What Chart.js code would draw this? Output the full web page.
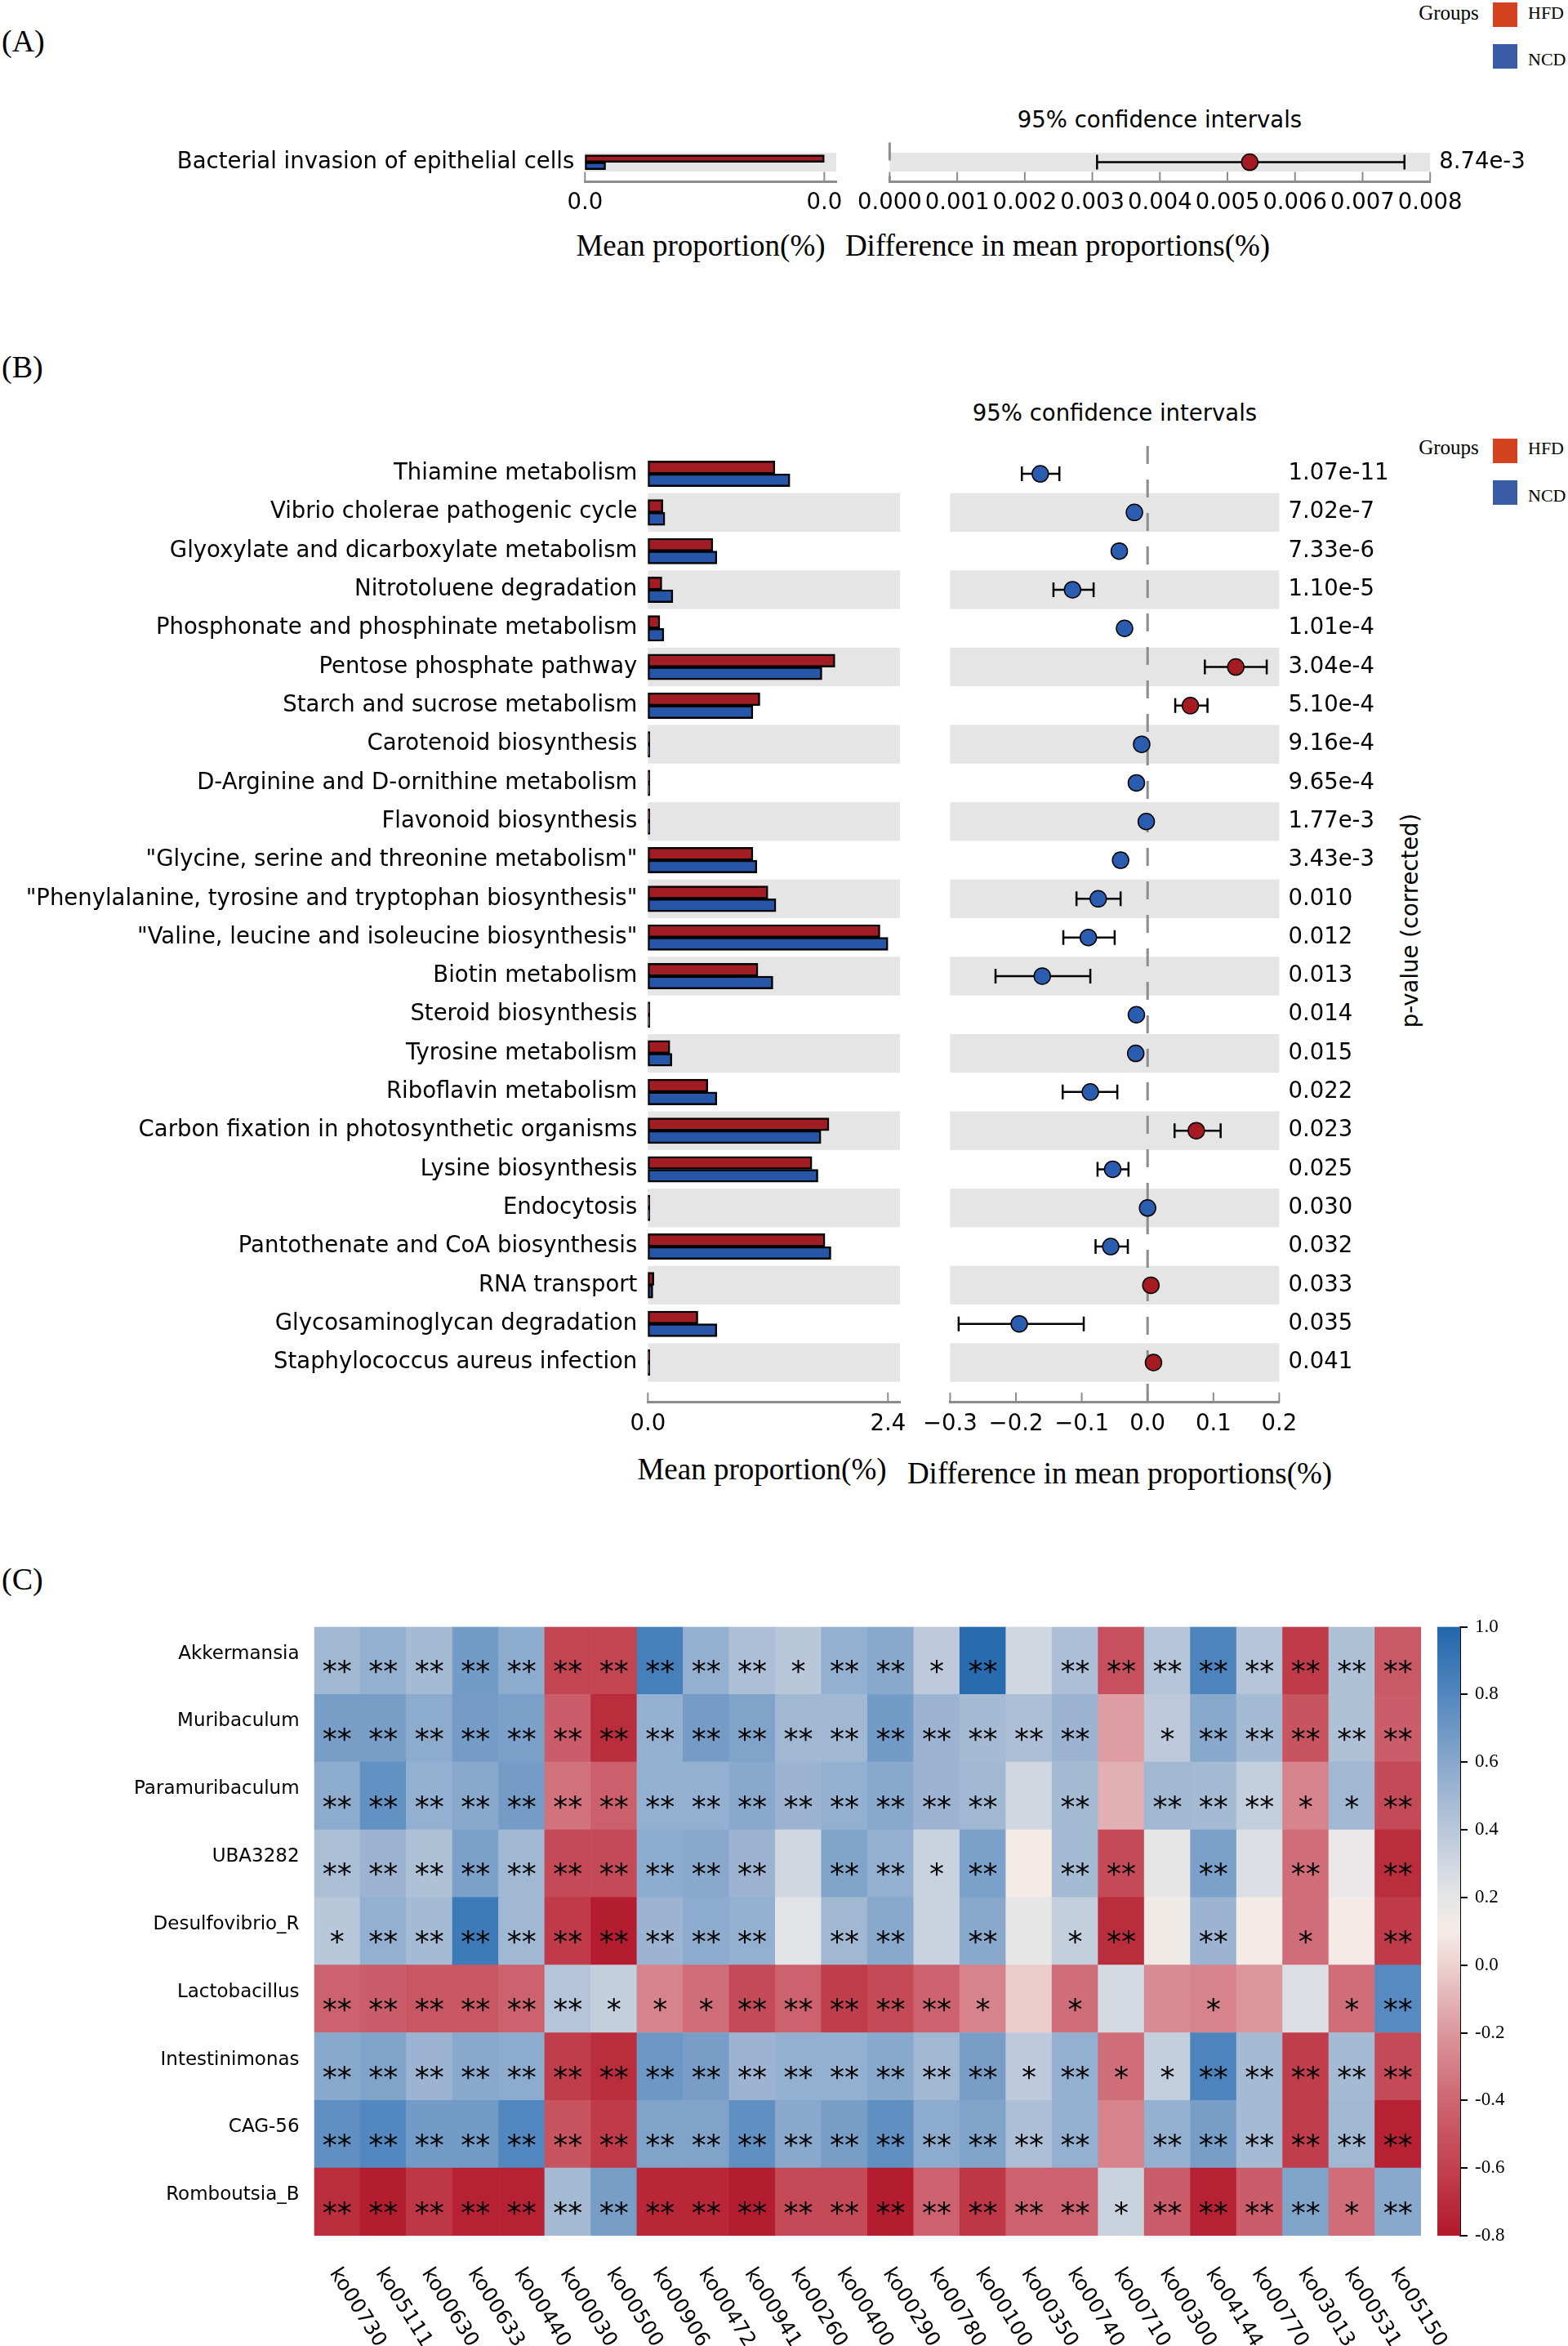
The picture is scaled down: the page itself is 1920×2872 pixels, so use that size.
<!DOCTYPE html>
<html>
<head>
<meta charset="utf-8">
<title>STAMP pathways and correlation heatmap</title>
<script src="https://cdn.jsdelivr.net/npm/chart.js@4.4.1/dist/chart.umd.min.js"></script>
<style>
    html, body { margin: 0; padding: 0; background: #fff; }
    #page { position: relative; width: 1920px; height: 2872px; overflow: hidden; background: #fff; }
    .box { position: absolute; }
    .txt { position: absolute; white-space: nowrap; line-height: 1; color: #000; }
    .serif { font-family: 'Liberation Serif', 'Times New Roman', serif; }
    .sans { font-family: 'DejaVu Sans', sans-serif; }
    .mid { transform: translate(-50%, -50%); }
    .lmid { transform: translateY(-50%); }
    .swatch { position: absolute; width: 30px; height: 30px; }
</style>
</head>
<body>
<div id="page">
    <!-- panel letters -->
    <div class="txt serif lmid" style="left:2px; top:50px; font-size:38px">(A)</div>
    <div class="txt serif lmid" style="left:2px; top:449px; font-size:38px">(B)</div>
    <div class="txt serif lmid" style="left:2px; top:1933px; font-size:38px">(C)</div>

    <!-- legend A -->
    <div class="txt serif mid" style="left:1774px; top:15px; font-size:25px">Groups</div>
    <div class="swatch" style="left:1828px; top:3px; background:#d3431f"></div>
    <div class="txt serif lmid" style="left:1871px; top:16px; font-size:22px">HFD</div>
    <div class="swatch" style="left:1828px; top:54px; background:#3a5ba5"></div>
    <div class="txt serif lmid" style="left:1871px; top:72.5px; font-size:22px">NCD</div>

    <!-- legend B -->
    <div class="txt serif mid" style="left:1774px; top:546.5px; font-size:25px">Groups</div>
    <div class="swatch" style="left:1828px; top:537px; background:#d3431f"></div>
    <div class="txt serif lmid" style="left:1871px; top:549px; font-size:22px">HFD</div>
    <div class="swatch" style="left:1828px; top:588px; background:#3a5ba5"></div>
    <div class="txt serif lmid" style="left:1871px; top:606.5px; font-size:22px">NCD</div>

    <!-- titles -->
    <div class="txt sans mid" style="left:1420px; top:147px; font-size:27.5px">95% confidence intervals</div>
    <div class="txt serif mid" style="left:858px; top:300px; font-size:37px">Mean proportion(%)</div>
    <div class="txt serif mid" style="left:1295px; top:300px; font-size:37px">Difference in mean proportions(%)</div>

    <div class="txt sans mid" style="left:1365px; top:506px; font-size:27.5px">95% confidence intervals</div>
    <div class="txt serif mid" style="left:933px; top:1798px; font-size:37px">Mean proportion(%)</div>
    <div class="txt serif mid" style="left:1371px; top:1803px; font-size:37px">Difference in mean proportions(%)</div>
    <div class="txt sans" style="left:1727px; top:1127px; font-size:27.5px; transform:translate(-50%,-50%) rotate(-90deg)">p-value (corrected)</div>

    <!-- charts -->
    <div class="box" style="left:0; top:143px; width:1060px; height:140px"><canvas id="aBar"></canvas></div>
    <div class="box" style="left:1040px; top:143px; width:880px; height:140px"><canvas id="aCi"></canvas></div>
    <div class="box" style="left:0; top:500px; width:1140px; height:1290px"><canvas id="bBar"></canvas></div>
    <div class="box" style="left:1100px; top:500px; width:640px; height:1290px"><canvas id="bCi"></canvas></div>
    <div class="box" style="left:0; top:1950px; width:1920px; height:922px"><canvas id="heat"></canvas></div>
    <div class="box" style="left:1700px; top:1960px; width:200px; height:820px"><canvas id="cbar"></canvas></div>
</div>

<script>
// ---- Panel A data ----
const aPathways = ['Bacterial invasion of epithelial cells'];
const aHfdMean = [0.0058];
const aNcdMean = [0.0005];
const aDiff = [0.00533];
const aCiLow = [0.00307];
const aCiHigh = [0.00762];
const aPValues = ['8.74e-3'];

// ---- Panel B data ----
const bPathways = [
    'Thiamine metabolism',
    'Vibrio cholerae pathogenic cycle',
    'Glyoxylate and dicarboxylate metabolism',
    'Nitrotoluene degradation',
    'Phosphonate and phosphinate metabolism',
    'Pentose phosphate pathway',
    'Starch and sucrose metabolism',
    'Carotenoid biosynthesis',
    'D-Arginine and D-ornithine metabolism',
    'Flavonoid biosynthesis',
    '"Glycine, serine and threonine metabolism"',
    '"Phenylalanine, tyrosine and tryptophan biosynthesis"',
    '"Valine, leucine and isoleucine biosynthesis"',
    'Biotin metabolism',
    'Steroid biosynthesis',
    'Tyrosine metabolism',
    'Riboflavin metabolism',
    'Carbon fixation in photosynthetic organisms',
    'Lysine biosynthesis',
    'Endocytosis',
    'Pantothenate and CoA biosynthesis',
    'RNA transport',
    'Glycosaminoglycan degradation',
    'Staphylococcus aureus infection'
];
const bHfdMean = [1.27, 0.15, 0.65, 0.14, 0.12, 1.87, 1.12, 0.02, 0.02, 0.02, 1.05, 1.20, 2.32, 1.10, 0.02, 0.22, 0.60, 1.81, 1.64, 0.02, 1.77, 0.06, 0.50, 0.02];
const bNcdMean = [1.42, 0.17, 0.69, 0.25, 0.16, 1.74, 1.05, 0.02, 0.02, 0.02, 1.09, 1.28, 2.40, 1.25, 0.02, 0.24, 0.69, 1.73, 1.70, 0.02, 1.83, 0.05, 0.69, 0.02];
const bDiff = [-0.163, -0.020, -0.043, -0.114, -0.035, 0.134, 0.065, -0.009, -0.017, -0.002, -0.041, -0.075, -0.090, -0.160, -0.017, -0.018, -0.087, 0.074, -0.053, 0.000, -0.056, 0.005, -0.195, 0.009];
const bCiLow = [-0.191, -0.023, -0.048, -0.143, -0.039, 0.087, 0.042, -0.011, -0.019, -0.004, -0.048, -0.108, -0.128, -0.231, -0.019, -0.020, -0.129, 0.041, -0.076, -0.002, -0.079, 0.003, -0.287, 0.007];
const bCiHigh = [-0.134, -0.017, -0.038, -0.082, -0.031, 0.181, 0.091, -0.007, -0.015, 0.000, -0.034, -0.041, -0.050, -0.087, -0.015, -0.016, -0.046, 0.111, -0.029, 0.002, -0.030, 0.007, -0.097, 0.011];
const bPValues = ['1.07e-11', '7.02e-7', '7.33e-6', '1.10e-5', '1.01e-4', '3.04e-4', '5.10e-4', '9.16e-4', '9.65e-4', '1.77e-3', '3.43e-3',
    '0.010', '0.012', '0.013', '0.014', '0.015', '0.022', '0.023', '0.025', '0.030', '0.032', '0.033', '0.035', '0.041'];

// ---- Panel C data (correlation r, genus x KEGG pathway) ----
const koPathways = ['ko00730', 'ko05111', 'ko00630', 'ko00633', 'ko00440', 'ko00030', 'ko00500', 'ko00906', 'ko00472', 'ko00941', 'ko00260', 'ko00400',
    'ko00290', 'ko00780', 'ko00100', 'ko00350', 'ko00740', 'ko00710', 'ko00300', 'ko04144', 'ko00770', 'ko03013', 'ko00531', 'ko05150'];
const genera = ['Akkermansia', 'Muribaculum', 'Paramuribaculum', 'UBA3282', 'Desulfovibrio_R', 'Lactobacillus', 'Intestinimonas', 'CAG-56', 'Romboutsia_B'];

const rAkkermansia = [0.50, 0.55, 0.48, 0.68, 0.58, -0.58, -0.58, 0.85, 0.55, 0.45, 0.40, 0.55, 0.60, 0.38, 0.97, 0.30, 0.45, -0.52, 0.42, 0.82, 0.42, -0.63, 0.44, -0.47];
const rMuribaculum = [0.66, 0.66, 0.58, 0.67, 0.65, -0.45, -0.70, 0.55, 0.67, 0.63, 0.50, 0.50, 0.68, 0.52, 0.48, 0.45, 0.52, -0.18, 0.38, 0.60, 0.48, -0.50, 0.44, -0.45];
const rParamuribaculum = [0.58, 0.74, 0.55, 0.60, 0.67, -0.35, -0.43, 0.55, 0.55, 0.60, 0.52, 0.55, 0.60, 0.52, 0.50, 0.30, 0.48, -0.12, 0.50, 0.48, 0.35, -0.28, 0.50, -0.55];
const rUBA3282 = [0.46, 0.52, 0.44, 0.65, 0.50, -0.55, -0.55, 0.58, 0.60, 0.52, 0.30, 0.63, 0.55, 0.33, 0.65, 0.10, 0.48, -0.55, 0.20, 0.65, 0.25, -0.37, 0.18, -0.70];
const rDesulfovibrio = [0.40, 0.55, 0.48, 0.88, 0.50, -0.63, -0.78, 0.52, 0.58, 0.55, 0.22, 0.50, 0.60, 0.33, 0.60, 0.20, 0.35, -0.70, 0.13, 0.52, 0.10, -0.37, 0.10, -0.63];
const rLactobacillus = [-0.42, -0.45, -0.48, -0.48, -0.42, 0.42, 0.35, -0.28, -0.37, -0.55, -0.42, -0.62, -0.55, -0.42, -0.28, -0.02, -0.37, 0.28, -0.25, -0.28, -0.20, 0.25, -0.37, 0.78];
const rIntestinimonas = [0.60, 0.63, 0.52, 0.60, 0.58, -0.62, -0.70, 0.70, 0.66, 0.52, 0.55, 0.55, 0.60, 0.50, 0.66, 0.38, 0.55, -0.37, 0.35, 0.82, 0.48, -0.62, 0.48, -0.55];
const rCAG56 = [0.75, 0.80, 0.68, 0.68, 0.80, -0.50, -0.63, 0.63, 0.63, 0.75, 0.60, 0.66, 0.75, 0.58, 0.63, 0.45, 0.55, -0.28, 0.55, 0.66, 0.48, -0.62, 0.50, -0.75];
const rRomboutsia = [-0.70, -0.78, -0.65, -0.75, -0.75, 0.48, 0.66, -0.73, -0.73, -0.78, -0.55, -0.55, -0.78, -0.42, -0.65, -0.42, -0.42, 0.33, -0.45, -0.75, -0.45, 0.63, -0.37, 0.60];

// number of stars per cell (0 = not significant, 1 = *, 2 = **)
const sigAkkermansia = '222222222212212022222222';
const sigMuribaculum = '222222222222222220122222';
const sigParamuribaculum = '222222222222222020222112';
const sigUBA3282 = '222222222202212022020202';
const sigDesulfovibrio = '122222222202202012020102';
const sigLactobacillus = '222222111222221010010012';
const sigIntestinimonas = '222222222222222121122222';
const sigCAG56 = '222222222222222220222222';
const sigRomboutsia = '222222222222222221222212';

const corrRows = [rAkkermansia, rMuribaculum, rParamuribaculum, rUBA3282, rDesulfovibrio, rLactobacillus, rIntestinimonas, rCAG56, rRomboutsia];
const sigRows = [sigAkkermansia, sigMuribaculum, sigParamuribaculum, sigUBA3282, sigDesulfovibrio, sigLactobacillus, sigIntestinimonas, sigCAG56, sigRomboutsia];

// colour bar range and ticks
const colorMin = -0.8;
const colorMax = 1.0;
const cmapStops = [-0.8, -0.6, -0.4, -0.2, 0.0, 0.1, 0.2, 0.4, 0.6, 0.8, 1.0];
const cmapColors = ['#b2182b', '#c2414f', '#cd6671', '#dc979d', '#ecd2d1', '#f4ebe7', '#e6e6e7', '#b9c7da', '#88a8cc', '#5287bf', '#2166ac'];

// ---- styling ----
const BAR_RED = '#a21d23';
const BAR_BLUE = '#2756a8';
const DOT_RED = '#a61b22';
const DOT_BLUE = '#2a5db0';
const BAND_GREY = '#e5e5e5';
const AXIS_GREY = '#8c8c8c';
const SANS = "'DejaVu Sans', sans-serif";
const SERIF = "'Liberation Serif', 'Times New Roman', serif";

Chart.defaults.font.family = SANS;
Chart.defaults.font.size = 27.5;
Chart.defaults.color = '#000';
Chart.defaults.animation = false;
Chart.defaults.responsive = true;
Chart.defaults.maintainAspectRatio = false;
Chart.defaults.plugins.legend.display = false;
Chart.defaults.plugins.tooltip.enabled = false;

// hex -> rgb helper for the colour map
function hexToRgb(h) {
    return [parseInt(h.slice(1, 3), 16), parseInt(h.slice(3, 5), 16), parseInt(h.slice(5, 7), 16)];
}

function colorFor(v) {
    const c = Math.max(colorMin, Math.min(colorMax, v));
    for (let i = 0; i < cmapStops.length - 1; i++) {
        if (c <= cmapStops[i + 1]) {
            const t = (c - cmapStops[i]) / (cmapStops[i + 1] - cmapStops[i]);
            const a = hexToRgb(cmapColors[i]), b = hexToRgb(cmapColors[i + 1]);
            const rgb = a.map((x, k) => Math.round(x + (b[k] - x) * t));
            return 'rgb(' + rgb.join(',') + ')';
        }
    }
    return cmapColors[cmapColors.length - 1];
}

// inward pointing ticks on the bottom axis (matplotlib look)
const insideTicks = {
    id: 'insideTicks',
    afterDraw(chart) {
        const { ctx, chartArea: ca, scales: { x } } = chart;
        ctx.save();
        ctx.strokeStyle = AXIS_GREY;
        ctx.lineWidth = 2;
        x.ticks.forEach(t => {
            const px = x.getPixelForValue(t.value);
            ctx.beginPath();
            ctx.moveTo(px, ca.bottom);
            ctx.lineTo(px, ca.bottom - 12);
            ctx.stroke();
        });
        ctx.restore();
    }
};

// alternating grey row bands, the bottom row is always grey
function makeRowBands(n) {
    return {
        id: 'rowBands',
        beforeDatasetsDraw(chart) {
            const { ctx, chartArea: ca, scales: { y } } = chart;
            ctx.save();
            ctx.fillStyle = BAND_GREY;
            for (let i = 0; i < n; i++) {
                if ((n - 1 - i) % 2 !== 0) continue;
                const top = y.getPixelForValue(i - 0.5);
                const bottom = y.getPixelForValue(i + 0.5);
                ctx.fillRect(ca.left, top, ca.right - ca.left, bottom - top);
            }
            ctx.restore();
        }
    };
}

// dashed zero line + error bars of the 95% CI
function makeErrorBars(low, high) {
    return {
        id: 'errorBars',
        beforeDatasetsDraw(chart) {
            const { ctx, chartArea: ca, scales: { x, y } } = chart;
            ctx.save();
            ctx.strokeStyle = AXIS_GREY;
            ctx.lineWidth = 3;
            ctx.setLineDash([22, 19]);
            const x0 = x.getPixelForValue(0);
            ctx.beginPath();
            ctx.moveTo(x0, ca.top);
            ctx.lineTo(x0, ca.bottom);
            ctx.stroke();
            ctx.setLineDash([]);
            ctx.strokeStyle = '#000';
            ctx.lineWidth = 2.5;
            low.forEach((lo, i) => {
                const yy = y.getPixelForValue(i);
                const xl = x.getPixelForValue(lo);
                const xh = x.getPixelForValue(high[i]);
                ctx.beginPath();
                ctx.moveTo(xl, yy); ctx.lineTo(xh, yy);
                ctx.moveTo(xl, yy - 9); ctx.lineTo(xl, yy + 9);
                ctx.moveTo(xh, yy - 9); ctx.lineTo(xh, yy + 9);
                ctx.stroke();
            });
            ctx.restore();
        }
    };
}

function rowTicks(n) {
    return scale => { scale.ticks = Array.from({ length: n }, (_, i) => ({ value: i })); };
}

// one STAMP extended error bar panel = bar chart + CI chart
function stampPanel(p) {
    const n = p.names.length;
    const maxMean = Math.max(...p.hfd, ...p.ncd);
    const barOpts = { borderColor: '#000', borderWidth: 2.5, borderSkipped: false, barThickness: p.barThickness };

    new Chart(document.getElementById(p.barId), {
        type: 'bar',
        data: {
            datasets: [
                Object.assign({ label: 'HFD', data: p.hfd.map((v, i) => ({ x: v, y: i })), backgroundColor: BAR_RED }, barOpts),
                Object.assign({ label: 'NCD', data: p.ncd.map((v, i) => ({ x: v, y: i })), backgroundColor: BAR_BLUE }, barOpts)
            ]
        },
        options: {
            indexAxis: 'y',
            layout: { padding: p.barPadding },
            scales: {
                x: {
                    type: 'linear', min: 0, max: maxMean * 1.05,
                    afterBuildTicks: s => { s.ticks = [{ value: 0 }, { value: maxMean }]; },
                    afterFit: s => { s.height = p.xAxisHeight; },
                    ticks: { callback: v => v.toFixed(1), padding: p.xTickPad, autoSkip: false, maxRotation: 0, minRotation: 0 },
                    grid: { display: false, drawTicks: false },
                    border: { display: true, color: AXIS_GREY, width: 3 }
                },
                y: {
                    type: 'linear', reverse: true, offset: false, min: p.yMin, max: p.yMax,
                    afterBuildTicks: rowTicks(n),
                    afterFit: s => { s.width = p.labelWidth; },
                    ticks: { callback: (v, i) => p.names[i], padding: 13, autoSkip: false },
                    grid: { display: false, drawTicks: false, offset: false },
                    border: { display: false }
                }
            }
        },
        plugins: [makeRowBands(n), insideTicks]
    });

    new Chart(document.getElementById(p.ciId), {
        type: 'scatter',
        data: {
            datasets: [{
                data: p.diff.map((v, i) => ({ x: v, y: i })),
                pointRadius: 10,
                pointHoverRadius: 10,
                pointBackgroundColor: p.diff.map(v => v > 0 ? DOT_RED : DOT_BLUE),
                pointBorderColor: '#000',
                pointBorderWidth: 1.5
            }]
        },
        options: {
            layout: { padding: p.ciPadding },
            scales: {
                x: {
                    type: 'linear', min: p.ciMin, max: p.ciMax,
                    afterFit: s => { s.height = p.xAxisHeight; },
                    ticks: { stepSize: p.ciStep, callback: p.ciFormat, padding: p.xTickPad, autoSkip: false, maxRotation: 0, minRotation: 0 },
                    grid: { display: false, drawTicks: false },
                    border: { display: true, color: AXIS_GREY, width: 3 }
                },
                y: { type: 'linear', reverse: true, offset: false, min: p.yMin, max: p.yMax, display: false },
                y2: {
                    type: 'linear', position: 'right', reverse: true, offset: false, min: p.yMin, max: p.yMax,
                    afterBuildTicks: rowTicks(n),
                    afterFit: s => { s.width = p.pWidth; },
                    ticks: { callback: (v, i) => p.pvals[i], padding: 11, autoSkip: false },
                    grid: { display: false, drawTicks: false },
                    border: { display: false }
                }
            }
        },
        plugins: [makeRowBands(n), makeErrorBars(p.low, p.high), insideTicks]
    });
}

const minusFmt = v => {
    const r = Math.round(v * 10) / 10;
    return (r === 0 ? 0 : r).toFixed(1).replace('-', '\u2212');
};

// Panel A
stampPanel({
    barId: 'aBar', ciId: 'aCi',
    names: aPathways, hfd: aHfdMean, ncd: aNcdMean,
    diff: aDiff, low: aCiLow, high: aCiHigh, pvals: aPValues,
    yMin: -1.04, yMax: 1.04, barThickness: 9,
    barPadding: { top: 31.6, right: 36, bottom: 0, left: 0 }, labelWidth: 716.3,
    ciPadding: { top: 31.6, right: 10, bottom: 0, left: 47.5 }, pWidth: 158.8,
    xAxisHeight: 60.5, xTickPad: 10,
    ciMin: 0, ciMax: 0.008, ciStep: 0.001, ciFormat: v => v.toFixed(3)
});

// Panel B
stampPanel({
    barId: 'bBar', ciId: 'bCi',
    names: bPathways, hfd: bHfdMean, ncd: bNcdMean,
    diff: bDiff, low: bCiLow, high: bCiHigh, pvals: bPValues,
    yMin: -0.72, yMax: 24.03, barThickness: 15.7,
    barPadding: { top: 46, right: 38, bottom: 0, left: 0 }, labelWidth: 793.3,
    ciPadding: { top: 46, right: 10, bottom: 0, left: 63.4 }, pWidth: 163.6,
    xAxisHeight: 73.3, xTickPad: 11,
    ciMin: -0.3, ciMax: 0.2, ciStep: 0.1, ciFormat: minusFmt
});

// ---- Panel C heatmap: stacked unit bars, one dataset per genus (bottom row first) ----
const starLabels = {
    id: 'starLabels',
    afterDatasetsDraw(chart) {
        const { ctx } = chart;
        ctx.save();
        ctx.fillStyle = '#000';
        ctx.font = '36px ' + SANS;
        ctx.textAlign = 'center';
        ctx.textBaseline = 'alphabetic';
        chart.data.datasets.forEach((ds, d) => {
            const sig = sigRows[ds.rowIndex];
            chart.getDatasetMeta(d).data.forEach((el, c) => {
                const n = Number(sig[c]);
                if (!n) return;
                const { x, y, base } = el.getProps(['x', 'y', 'base'], true);
                ctx.fillText('*'.repeat(n), x, (y + base) / 2 + 25);
            });
        });
        ctx.restore();
    },
    afterDraw(chart) {
        const { ctx, chartArea: ca, scales: { x } } = chart;
        ctx.save();
        ctx.fillStyle = '#000';
        ctx.font = '25px ' + SANS;
        ctx.textAlign = 'left';
        ctx.textBaseline = 'middle';
        koPathways.forEach((lab, i) => {
            const px = x.getPixelForValue(i);
            ctx.save();
            ctx.translate(px - 4, ca.bottom + 42);
            ctx.rotate(58 * Math.PI / 180);
            ctx.fillText(lab, 0, 0);
            ctx.restore();
        });
        ctx.restore();
    }
};

const heatDatasets = genera.map((g, r) => ({
    label: g,
    rowIndex: r,
    data: koPathways.map(() => 1),
    backgroundColor: corrRows[r].map(colorFor),
    borderWidth: 0,
    barPercentage: 1,
    categoryPercentage: 1
})).reverse();

new Chart(document.getElementById('heat'), {
    type: 'bar',
    data: { labels: koPathways, datasets: heatDatasets },
    options: {
        layout: { padding: { top: 41.5, right: 180, bottom: 135, left: 0 } },
        scales: {
            x: { stacked: true, display: false },
            y: {
                stacked: true, min: 0, max: genera.length,
                afterBuildTicks: s => { s.ticks = genera.map((_, r) => ({ value: genera.length - r - 0.4 })); },
                afterFit: s => { s.width = 384.6; },
                ticks: { callback: (v, i) => genera[i], padding: 18, autoSkip: false, font: { size: 23 } },
                grid: { display: false, drawTicks: false },
                border: { display: false }
            }
        }
    },
    plugins: [starLabels]
});

// ---- colour bar ----
new Chart(document.getElementById('cbar'), {
    type: 'bar',
    data: {
        labels: [''],
        datasets: [{
            data: [[colorMin, colorMax]],
            backgroundColor: c => {
                const { chartArea, ctx } = c.chart;
                if (!chartArea) return cmapColors[5];
                const g = ctx.createLinearGradient(0, chartArea.bottom, 0, chartArea.top);
                cmapStops.forEach((s, i) => g.addColorStop((s - colorMin) / (colorMax - colorMin), cmapColors[i]));
                return g;
            },
            borderWidth: 0,
            barPercentage: 1,
            categoryPercentage: 1
        }]
    },
    options: {
        layout: { padding: { top: 31.5, right: 0, bottom: 43, left: 60 } },
        scales: {
            x: { display: false },
            y: {
                position: 'right', min: colorMin, max: colorMax,
                afterFit: s => { s.width = 112; },
                ticks: {
                    stepSize: 0.2, padding: 9, font: { family: SERIF, size: 23 },
                    callback: v => (Math.abs(v) < 1e-9 ? 0 : v).toFixed(1)
                },
                grid: { drawOnChartArea: false, drawTicks: true, tickLength: 9, color: '#000', lineWidth: 2 },
                border: { display: true, color: '#000', width: 2 }
            }
        }
    }
});
</script>
</body>
</html>
